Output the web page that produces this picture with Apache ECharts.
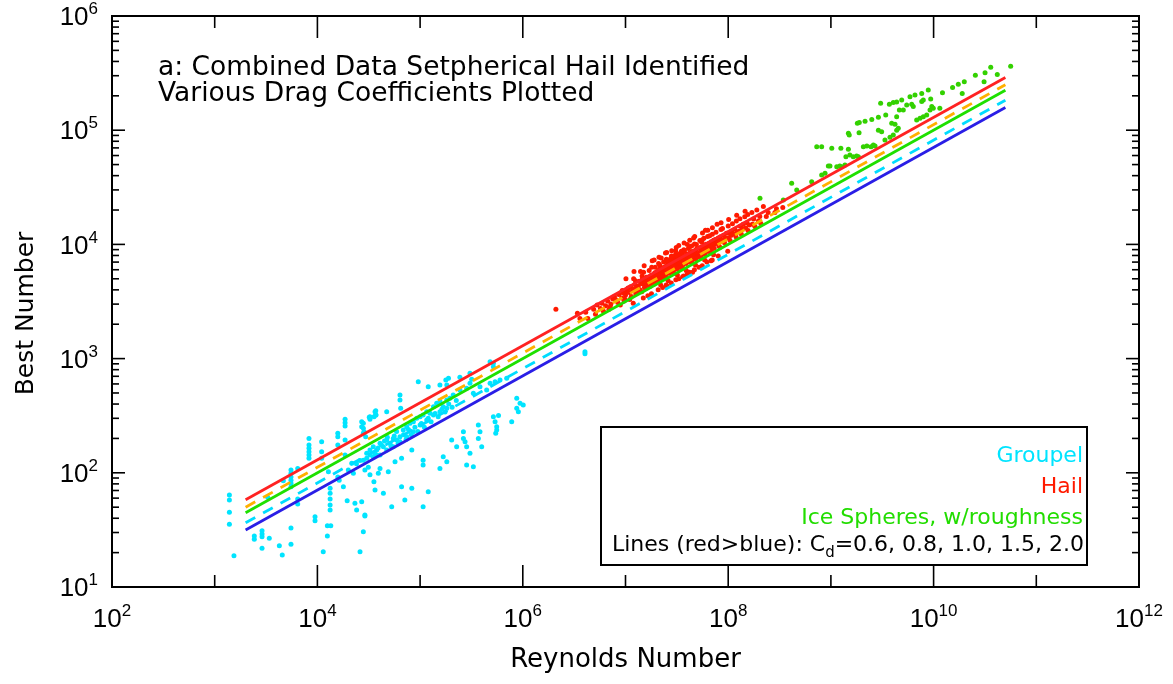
<!DOCTYPE html>
<html><head><meta charset="utf-8">
<script src="https://cdn.jsdelivr.net/npm/echarts@6/dist/echarts.min.js"></script>
<style>html,body{margin:0;padding:0;background:#fff}#c{width:1173px;height:684px}</style>
</head><body><div id="c"></div><script>
// ---- data ----
const groupel = [
[1390,64],[1390,57.8],[1390,45.1],[1390,35.4],[1540,18.8],
[2430,28],[2430,26.2],[2890,31.1],[2890,29.1],[2890,27.6],[3400,26.7],[2890,21.8],[3280,61],[4260,23],[4550,19.1],[5530,23.7],[5530,32.9],[4660,85],
[5530,106],[5530,99],[5530,92],[5530,86],[5530,81],[5530,75.5],
[6430,109],[6430,59],[6430,53.3],
[8280,200],[8280,175],[8280,164],[8280,153],[8280,143],[8280,134],
[9480,41.3],[9480,38.1],
[11000,187],[11000,153],[11000,134],[12800,102],
[13300,73.1],[13300,66.1],[13300,59],[13300,52.2],[13300,47.2],
[12500,34.4],[13500,34.4],[12500,28],[11400,20.4],
[15800,222],[15800,207],[15800,175],[15800,92],[16300,86],
[18600,194],[18600,143],[18600,294],[18600,275],[18600,257],
[19500,57],[17900,75.5],[23200,54],[24100,47.2],[26000,20.4],[28000,30.5],[29000,42.7],
[28000,271],[28000,245],[28000,222],[28000,129],[29000,106],
[32000,306],[32500,294],[37000,350],[37000,321],[36400,70.7],[35500,83.6],
[32500,143],[35000,138],[37800,143],[32500,96],[31300,112],[21600,121],[20000,106],[22400,99],
[27000,280],[27000,253],[28500,229],[29500,207],
[32500,310],[36400,343],[35600,310],[37200,321],
[47300,343],[63700,480],[63700,434],[64700,367],
[96000,628],[120000,568],[156000,587],[178000,650],[182000,587],[189000,672],
[244000,686],[306000,743],[318000,659],
[517000,910],[517000,849],[480000,940],
[30200,148],[32500,158],[35000,169],[37800,158],[40700,181],[43900,169],[47300,194],[50900,181],[54800,200],[59200,194],[63700,207],[68600,237],[74000,253],[79800,271],[86000,280],[92700,300],[100000,310],[107000,321],[116000,343],[125000,332],[135000,379],[145000,406],[156000,420],[168000,379],[182000,434],[195000,449],[210000,480],
[30200,134],[40700,143],[47300,158],[54800,169],[63700,187],[74000,207],[86000,229],[100000,262],[116000,290],[135000,321],[156000,343],[182000,367],
[244000,531],[284000,550],[306000,608],[330000,497],[383000,568],[445000,531],[480000,608],[537000,628],[600000,650],[697000,672],
[873000,449],[940000,406],[873000,367],[905000,343],[1010000,392],
[517000,310],[537000,280],[557000,253],[557000,237],[545000,222],[580000,318],[780000,280],
[264000,229],[264000,200],[274000,187],[284000,169],[306000,148],[369000,262],[383000,229],[369000,200],[398000,169],[203000,194],[227000,169],[168000,138],[182000,125],[156000,109],[284000,117],[330000,113],
[107000,129],[107000,117],[83000,158],[66000,75.5],[83000,73.1],[120000,68.4],[71000,57.8],[52900,50.5],[107000,50.5],[43900,66.1],[29000,41.9],[27000,55.8],
[49000,102],[40700,109],[39200,99],[57000,125],[66000,134],
[42000,175],[45000,190],[52000,172],[56000,210],[61000,180],[69000,215],[73000,196],[77000,240],[82000,215],[89000,250],[95000,230],[103000,270],[110000,250],[120000,300],[128000,280],[140000,330],[150000,310],[163000,360],[175000,340],[190000,400],[205000,375],[225000,430],[36000,150],[39000,165],[26000,128],[24000,120],[48000,205],[59000,230],
[4030000,1150],[4030000,1100]
];
const hail = [
[2.1e6,2700],
[3.4e6,2500],[3.6e6,2250],[4.1e6,2550],[4.3e6,2250],
[4.9e6,2700],[5.1e6,2450],[5.3e6,2950],[5.7e6,2750],[5.9e6,3050],[6.1e6,2600],
[6.4e6,2900],[6.7e6,3200],[6.9e6,2700],[7.2e6,3000],[7.5e6,3350],[7.1e6,2850],[7.8e6,3500],
[8.0e6,3300],[8.4e6,3100],[8.6e6,3650],[8.9e6,2950],[9.2e6,3400],[9.5e6,3750],[9.7e6,3200],[9.3e6,3950],
[1.0e7,3600],[1.03e7,3900],[0.98e7,3350],[1.06e7,4150],[1.01e7,5000],
[1.09e7,3800],[1.12e7,4250],[1.14e7,3500],[1.17e7,4000],[1.1e7,3300],
[1.2e7,4050],[1.23e7,4450],[1.26e7,3700],[1.28e7,4200],[1.31e7,3900],
[1.33e7,4300],[1.36e7,4750],[1.38e7,4000],[1.41e7,4550],[1.44e7,3850],[1.4e7,5800],[1.46e7,4950],
[1.48e7,4500],[1.51e7,4900],[1.53e7,4200],[1.55e7,4700],[1.57e7,4100],[1.6e7,5150],[1.62e7,4400],
[1.64e7,4750],[1.67e7,5100],[1.7e7,4450],[1.72e7,4900],[1.74e7,4300],[1.77e7,5350],[1.79e7,4650],
[1.81e7,4900],[1.84e7,5400],[1.86e7,4650],[1.88e7,5150],[1.9e7,4500],[1.93e7,5650],[1.95e7,4850],[1.97e7,5000],
[2.0e7,5200],[2.02e7,5750],[2.05e7,4900],[2.07e7,5400],[2.09e7,4700],[2.11e7,5950],[2.14e7,5050],[2.16e7,5500],[2.18e7,6150],
[2.2e7,5450],[2.22e7,6050],[2.25e7,5100],[2.27e7,5700],[2.2e7,4400],[2.3e7,6250],[2.32e7,5300],[2.34e7,5850],[2.23e7,7600],
[2.37e7,5700],[2.4e7,6300],[2.43e7,5350],[2.46e7,5950],[2.48e7,5100],[2.51e7,6550],[2.53e7,5550],[2.56e7,6050],[2.58e7,7000],
[2.62e7,6000],[2.65e7,6650],[2.68e7,5600],[2.7e7,6200],[2.6e7,4800],[2.74e7,6850],[2.77e7,5800],[2.8e7,6350],[2.55e7,4300],
[2.84e7,6250],[2.87e7,6950],[2.9e7,5800],[2.93e7,6500],[2.96e7,5600],[2.99e7,7150],[3.02e7,6050],[3.05e7,6650],[3.0e7,7650],[3.08e7,8800],
[3.12e7,6500],[3.16e7,7250],[3.2e7,6100],[3.23e7,6850],[3.2e7,5400],[3.27e7,7550],[3.3e7,6350],[3.34e7,6950],
[3.4e7,6850],[3.44e7,7650],[3.48e7,6400],[3.52e7,7150],[3.56e7,6200],[3.6e7,7850],[3.63e7,6650],[3.67e7,7350],[3.55e7,8450],[3.6e7,5200],
[3.8e7,7250],[3.85e7,8050],[3.9e7,6800],[3.94e7,7550],[3.9e7,5900],[3.98e7,8250],[4.02e7,7050],[4.06e7,7750],[4.0e7,10000],
[4.2e7,7550],[4.26e7,8450],[4.3e7,7100],[4.35e7,7950],[4.4e7,6900],[4.44e7,8650],[4.5e7,7350],[4.55e7,8150],[4.5e7,5700],
[4.7e7,7950],[4.76e7,8850],[4.82e7,7500],[4.88e7,8350],[4.8e7,6600],[4.94e7,9150],[5.0e7,7750],
[5.2e7,8350],[5.27e7,9350],[5.33e7,7900],[5.4e7,8750],[5.46e7,7600],[5.52e7,9550],[5.58e7,8150],[5.5e7,10500],
[5.8e7,8850],[5.87e7,9850],[5.94e7,8300],[6.0e7,9250],[5.9e7,7300],[6.08e7,10050],[6.15e7,8650],[6.2e7,7000],
[6.4e7,9250],[6.5e7,10250],[6.58e7,8700],[6.66e7,9650],[6.74e7,8450],[6.82e7,10550],[6.9e7,9050],
[7.1e7,9750],[7.2e7,10850],[7.3e7,9250],[7.4e7,10150],[7.2e7,8100],[7.5e7,11050],
[7.9e7,10250],[8.0e7,11350],[8.1e7,9750],[8.2e7,10650],[8.3e7,9450],[8.4e7,11650],
[8.8e7,10850],[9.0e7,12050],[9.2e7,10350],[9.4e7,11350],[9.6e7,12550],
[1.0e8,11350],[1.02e8,12650],[1.04e8,10850],[1.06e8,11950],[1.08e8,13050],
[1.13e8,12250],[1.16e8,13550],[1.19e8,11650],[1.22e8,12850],
[1.28e8,13050],[1.31e8,14450],[1.34e8,12350],[1.37e8,13750],[1.4e8,15050],
[1.48e8,13950],[1.52e8,15450],[1.56e8,13250],[1.6e8,14750],
[1.72e8,15050],[1.77e8,16650],[1.82e8,14350],
[1.97e8,16050],[2.03e8,17550],[2.08e8,15250],
[2.35e8,17550],[2.45e8,19050],[2.85e8,19050],[2.95e8,20550],[3.4e8,21050],
[1.2e7,5000],[1.21e7,5800],[1.19e7,3050],[1.5e7,5700],[1.52e7,6500],[1.49e7,3400],
[1.8e7,6300],[1.82e7,7200],[1.79e7,3700],[2.1e7,6800],[2.12e7,7700],[2.08e7,4000],
[2.5e7,7400],[2.52e7,8500],[2.49e7,4400],[2.8e7,7900],[2.82e7,8800],[2.79e7,4600],
[3.1e7,8200],[3.12e7,9400],[3.09e7,4900],[3.7e7,9000],[3.72e7,10300],[3.69e7,5300],
[4.2e7,9500],[4.22e7,10900],[4.19e7,5700],[4.7e7,10100],[4.72e7,11700],[4.69e7,6000],
[5.6e7,11000],[5.62e7,12600],[5.59e7,6500],[6.3e7,11700],[6.32e7,13300],
[7.0e7,12300],[7.02e7,14000],[6.99e7,7300],[8.5e7,13500],[8.52e7,15500],
[1.0e8,14500],[1.01e8,16500],[0.99e8,8700],[1.2e8,16000],[1.21e8,18000],
[1.45e8,17500],[1.46e8,19500],[1.7e8,19000],
[1.25e7,4800],[1.45e7,5300],[1.7e7,5900],[1.95e7,6300],[2.15e7,6600],[2.35e7,7000],[2.6e7,7200],[2.75e7,7500],[2.95e7,7900],[3.15e7,8000],[3.35e7,8300],[3.5e7,8700],[3.75e7,8800],[4.1e7,9200],[4.4e7,9700],[4.9e7,10000],[5.3e7,10800],[5.8e7,11300],[6.6e7,11900],[7.6e7,12800],[8.8e7,13800],[1.1e8,15200],[1.3e8,16800],[1.55e8,18300],[1.9e8,20000],[2.2e8,21500],
[1.65e7,3550],[2.3e7,4200],[3.3e7,5000],[4.0e7,5500],[5.2e7,6300],[6.8e7,7200],[8.0e7,7900],
[1.9e7,7300],[2.45e7,8400],[3.3e7,9800],[4.6e7,11400],[6.0e7,13300],[7.8e7,15000]
];
const iceSpheres = [
[2.04e8,2.53e4],[3.44e8,2.45e4],[4.15e8,3.43e4],[4.65e8,2.99e4],[6.5e8,3.54e4],[8.13e8,4.05e4],[8.77e8,4.2e4],[9.44e8,4.86e4],[9.8e8,4.86e4],
[7.28e8,7.17e4],[8.13e8,7.17e4],[1.02e9,6.94e4],[1.25e9,6.94e4],[1.48e9,6.8e4],[1.4e9,5.86e4],[1.53e9,6.07e4],[1.65e9,5.86e4],[1.78e9,5.94e4],[1.85e9,5.86e4],
[1.27e9,4.79e4],[1.37e9,4.95e4],[1.14e9,4.79e4],[1.22e9,4.86e4],[1.51e9,9.08e4],[1.48e9,9.4e4],[1.88e9,9.51e4],
[1.81e9,1.15e5],[1.89e9,1.17e5],[2.15e9,1.2e5],[2.5e9,1.24e5],[2.9e9,1.3e5],[3.42e9,1.36e5],
[3.05e9,1.72e5],[3.71e9,1.69e5],[4.05e9,1.75e5],[4.37e9,1.77e5],[4.89e9,1.84e5],
[2.46e9,7.17e4],[2.69e9,7.27e4],[2.59e9,7.42e4],[2.07e9,7.17e4],[2.24e9,7.27e4],
[3.36e9,8.2e4],[3.76e9,8.67e4],[4.05e9,9.08e4],[2.9e9,1.0e5],[3.12e9,9.7e4],
[3.91e9,1.15e5],[4.21e9,1.13e5],[4.37e9,1.0e5],[4.53e9,1.04e5],[4.37e9,1.31e5],
[4.64e9,1.5e5],[5.07e9,1.5e5],[5.47e9,1.66e5],[6.12e9,1.69e5],[6.34e9,1.61e5],
[5.89e9,1.96e5],[6.59e9,2.03e5],[7.66e9,2.1e5],[8.87e9,2.25e5],
[6.84e9,1.23e5],[7.38e9,1.27e5],[7.94e9,1.31e5],[8.57e9,1.36e5],[9.23e9,1.5e5],[9.6e9,1.61e5],[9.93e9,1.56e5],
[7.66e9,1.78e5],[7.94e9,1.84e5],[9.37e9,1.88e5],
[1.15e10,1.56e5],[1.22e10,2.13e5],[1.53e10,2.36e5],[1.74e10,2.52e5],[1.99e10,2.66e5],[1.9e10,2.1e5],
[2.55e10,3.03e5],[3.17e10,3.19e5],[3.6e10,3.55e5],[4.17e10,3.08e5],[5.63e10,3.63e5],[3.1e10,2.66e5]
];
// Drag-coefficient lines: end points (Best Number range) and Reynolds values
const lineX = [2e3, 5e10];
const cdValues = ['0.6', '0.8', '1.0', '1.5', '2.0'];
const cd06 = [58, 289000];
const cd08 = [50, 250000];
const cd10 = [44.7, 224000];
const cd15 = [36.5, 183000];
const cd20 = [31.6, 158000];
// axis tick positions
const xTickValues = [1e3,1e4,1e5,1e6,1e7,1e8,1e9,1e10,1e11];
const yTickValues = [
 20,30,40,50,60,70,80,90,100,
 200,300,400,500,600,700,800,900,1000,
 2000,3000,4000,5000,6000,7000,8000,9000,10000,
 20000,30000,40000,50000,60000,70000,80000,90000,100000,
 200000,300000,400000,500000,600000,700000,800000,900000
];
const seriesNames = ['Groupel', 'Hail', 'Ice Spheres, w/roughness'];

// ---- chart ----
const chart = echarts.init(document.getElementById('c'), null, {renderer: 'canvas'});
const FONT = 'DejaVu Sans';
const LFONT = 'Liberation Sans';
function powLabel(v) {
  const e = Math.round(Math.log10(v));
  return '{b|10}{s|' + e + '}';
}
const labelRich = {
  b: {fontSize: 26, fontFamily: LFONT, color: '#000', lineHeight: 30, verticalAlign: 'bottom'},
  s: {fontSize: 17, fontFamily: LFONT, color: '#000', lineHeight: 30, verticalAlign: 'top'}
};
function pair(ys) { return [[lineX[0], ys[0]], [lineX[1], ys[1]]]; }
function lineSeries(name, ys, color, dashed) {
  return {
    name: name, type: 'line', data: pair(ys), showSymbol: false, symbol: 'none', z: 4, silent: true,
    lineStyle: {color: color, width: 2.8, type: dashed ? [11, 9] : 'solid', cap: 'butt'}
  };
}
const tickStyle = {stroke: '#000', lineWidth: 1.6};
const option = {
  animation: false,
  backgroundColor: '#fff',
  grid: {left: 112, right: 34, top: 16, bottom: 97, show: true, borderColor: '#000', borderWidth: 2, backgroundColor: 'transparent'},
  xAxis: {
    type: 'log', logBase: 10, min: 1e2, max: 1e12, interval: 2,
    name: 'Reynolds Number', nameLocation: 'middle', nameGap: 60,
    nameTextStyle: {fontSize: 26, fontFamily: FONT, color: '#000'},
    axisLine: {show: false}, axisTick: {show: false}, splitLine: {show: false}, minorTick: {show: false},
    axisLabel: {formatter: powLabel, rich: labelRich, margin: 16, showMinLabel: true, showMaxLabel: true}
  },
  yAxis: {
    type: 'log', logBase: 10, min: 1e1, max: 1e6, interval: 1,
    name: 'Best Number', nameLocation: 'middle', nameGap: 73,
    nameTextStyle: {fontSize: 25, fontFamily: FONT, color: '#000', padding: [0, 24, 0, 0]},
    axisLine: {show: false}, axisTick: {show: false}, splitLine: {show: false},
    axisLabel: {formatter: powLabel, rich: labelRich, margin: 14, showMinLabel: true, showMaxLabel: true}
  },
  legend: {
    orient: 'vertical', right: 80, top: 439, itemGap: 6, itemWidth: 0, itemHeight: 0, icon: 'none', align: 'right',
    selectedMode: false,
    textStyle: {fontSize: 22, fontFamily: FONT, lineHeight: 25},
    data: [
      {name: seriesNames[0], textStyle: {color: '#00e4ff'}},
      {name: seriesNames[1], textStyle: {color: '#ff1a00'}},
      {name: seriesNames[2], textStyle: {color: '#22dd00'}}
    ],
    z: 20
  },
  graphic: [
    {type: 'rect', z: 10, shape: {x: 601, y: 427, width: 486, height: 138},
     style: {fill: '#fff', stroke: '#000', lineWidth: 2}},
    {type: 'text', z: 11, x: 1084, y: 545,
     style: {text: '{n|Lines (red>blue): C}{d|d}{n|=' + cdValues.join(', ') + '}', align: 'right', verticalAlign: 'middle',
       rich: {n: {fontSize: 22, fontFamily: FONT, fill: '#000', lineHeight: 26},
              d: {fontSize: 15, fontFamily: FONT, fill: '#000', lineHeight: 26, padding: [16, 0, 0, 0]}}}},
    {type: 'text', z: 11, x: 158, y: 55,
     style: {text: 'a: Combined Data Setpherical Hail Identified\nVarious Drag Coefficients Plotted',
       fontSize: 26.5, fontFamily: FONT, fill: '#000', lineHeight: 26}}
  ],
  series: [
    {name: seriesNames[0], type: 'scatter', data: groupel, symbolSize: 5, z: 2, itemStyle: {color: '#00e4ff', opacity: 1}},
    {name: seriesNames[1], type: 'scatter', data: hail, symbolSize: 5, z: 2, itemStyle: {color: '#ff1a00', opacity: 1}},
    {name: seriesNames[2], type: 'scatter', data: iceSpheres, symbolSize: 5, z: 2, itemStyle: {color: '#33d100', opacity: 1}},
    lineSeries('Cd=0.6', cd06, '#ff2222', false),
    lineSeries('Cd=0.8', cd08, '#ffb000', true),
    lineSeries('Cd=1.0', cd10, '#1ee000', false),
    lineSeries('Cd=1.5', cd15, '#00dcff', true),
    lineSeries('Cd=2.0', cd20, '#2a1ee6', false),
    {
      name: 'xticks', type: 'custom', silent: true, clip: false, z: 6,
      data: xTickValues.map(v => [v, 1e1]),
      renderItem: function (params, api) {
        const cs = params.coordSys;
        const v = api.value(0);
        const e = Math.round(Math.log10(v));
        const len = e % 2 === 0 ? 22 : 12;
        const px = api.coord([v, 1e1])[0];
        return {type: 'group', children: [
          {type: 'line', shape: {x1: px, y1: cs.y + cs.height, x2: px, y2: cs.y + cs.height - len}, style: tickStyle},
          {type: 'line', shape: {x1: px, y1: cs.y, x2: px, y2: cs.y + len}, style: tickStyle}
        ]};
      }
    },
    {
      name: 'yticks', type: 'custom', silent: true, clip: false, z: 6,
      data: yTickValues.map(v => [1e2, v]),
      renderItem: function (params, api) {
        const cs = params.coordSys;
        const v = api.value(1);
        const lg = Math.log10(v);
        const major = Math.abs(lg - Math.round(lg)) < 1e-6;
        const len = major ? 13 : 7;
        const py = api.coord([1e2, v])[1];
        return {type: 'group', children: [
          {type: 'line', shape: {x1: cs.x, y1: py, x2: cs.x + len, y2: py}, style: tickStyle},
          {type: 'line', shape: {x1: cs.x + cs.width, y1: py, x2: cs.x + cs.width - len, y2: py}, style: tickStyle}
        ]};
      }
    }
  ]
};
chart.setOption(option);
</script></body></html>
